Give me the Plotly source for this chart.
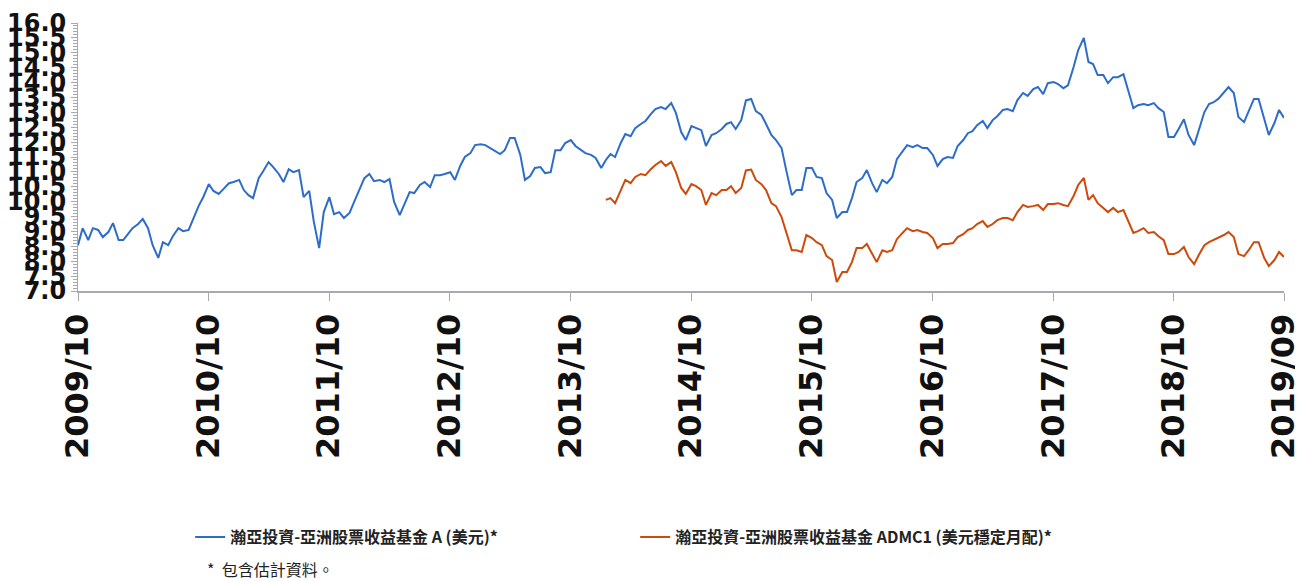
import pandas as pd
import plotly.graph_objects as go

# Semi-monthly observation dates (1st and 15th of each month) plus the final date
dates = list(pd.date_range("2009-10-01", "2019-09-15", freq="SMS")) + [pd.Timestamp("2019-09-30")]

fund_a = [
    8.54, 9.11, 8.71, 9.11, 9.05, 8.81, 8.98, 9.28, 8.71, 8.71,
    8.91, 9.11, 9.25, 9.42, 9.11, 8.54, 8.11, 8.64, 8.54, 8.84,
    9.11, 9.01, 9.05, 9.42, 9.85, 10.15, 10.59, 10.36, 10.26, 10.42,
    10.62, 10.66, 10.73, 10.39, 10.22, 10.12, 10.79, 11.03, 11.33, 11.16,
    10.93, 10.66, 11.09, 10.99, 11.06, 10.15, 10.36, 9.32, 8.44, 9.65,
    10.15, 9.58, 9.65, 9.45, 9.62, 9.99, 10.46, 10.79, 10.93, 10.69,
    10.73, 10.66, 10.76, 9.99, 9.55, 9.92, 10.32, 10.29, 10.56, 10.66,
    10.49, 10.89, 10.89, 10.93, 10.99, 10.73, 11.20, 11.50, 11.63, 11.90,
    11.93, 11.90, 11.80, 11.70, 11.60, 11.73, 12.14, 12.14, 11.57, 10.73,
    10.86, 11.13, 11.16, 10.96, 10.99, 11.73, 11.73, 11.97, 12.07, 11.87,
    11.73, 11.63, 11.57, 11.47, 11.13, 11.40, 11.60, 11.50, 11.97, 12.27,
    12.20, 12.47, 12.61, 12.71, 12.94, 13.11, 13.18, 13.11, 13.31, 12.98,
    12.34, 12.07, 12.54, 12.47, 12.40, 11.87, 12.24, 12.30, 12.44, 12.61,
    12.67, 12.44, 12.74, 13.40, 13.45, 13.04, 12.91, 12.61, 12.24, 12.07,
    11.80, 11.06, 10.22, 10.39, 10.39, 11.13, 11.13, 10.83, 10.79, 10.29,
    10.06, 9.45, 9.65, 9.65, 10.12, 10.66, 10.79, 11.06, 10.62, 10.32,
    10.73, 10.62, 10.83, 11.43, 11.67, 11.90, 11.83, 11.90, 11.80, 11.80,
    11.57, 11.20, 11.43, 11.50, 11.47, 11.87, 12.07, 12.30, 12.37, 12.57,
    12.71, 12.47, 12.74, 12.87, 13.08, 13.11, 13.04, 13.41, 13.65, 13.55,
    13.78, 13.85, 13.61, 13.98, 14.02, 13.95, 13.81, 13.91, 14.52, 15.09,
    15.50, 14.69, 14.62, 14.25, 14.25, 13.98, 14.18, 14.18, 14.28, 13.71,
    13.14, 13.24, 13.28, 13.24, 13.31, 13.14, 13.01, 12.17, 12.17, 12.44,
    12.77, 12.24, 11.90, 12.40, 13.01, 13.28, 13.34, 13.45, 13.65, 13.85,
    13.65, 12.84, 12.67, 13.01, 13.45, 13.45, 12.74, 12.24, 12.64, 13.08,
    12.81,
]

# ADMC1 share class starts 2014-02-15 (index 105 of the date list)
admc1_start = 105
fund_admc1 = [
    10.06, 10.12, 9.95, 10.39, 10.73,
    10.62, 10.83, 10.93, 10.89, 11.09, 11.23, 11.36, 11.20, 11.33, 10.99,
    10.46, 10.26, 10.59, 10.52, 10.39, 9.89, 10.29, 10.22, 10.39, 10.39,
    10.52, 10.29, 10.46, 11.05, 11.08, 10.73, 10.59, 10.39, 9.95, 9.85,
    9.48, 8.95, 8.37, 8.37, 8.31, 8.88, 8.78, 8.64, 8.54, 8.17,
    8.04, 7.30, 7.64, 7.64, 7.97, 8.44, 8.44, 8.58, 8.24, 7.97,
    8.37, 8.31, 8.37, 8.74, 8.95, 9.11, 9.01, 9.05, 8.98, 8.95,
    8.78, 8.44, 8.58, 8.58, 8.61, 8.81, 8.91, 9.05, 9.11, 9.25,
    9.35, 9.15, 9.25, 9.38, 9.45, 9.45, 9.38, 9.65, 9.89, 9.82,
    9.85, 9.89, 9.72, 9.92, 9.92, 9.95, 9.89, 9.85, 10.19, 10.56,
    10.80, 10.06, 10.22, 9.95, 9.79, 9.65, 9.79, 9.65, 9.72, 9.35,
    8.95, 9.01, 9.11, 8.95, 8.98, 8.84, 8.71, 8.24, 8.24, 8.31,
    8.48, 8.14, 7.90, 8.21, 8.54, 8.64, 8.71, 8.78, 8.88, 8.98,
    8.81, 8.24, 8.17, 8.37, 8.64, 8.64, 8.11, 7.84, 8.04, 8.31,
    8.14,
]

tick_dates = ["2009-10-01", "2010-10-31", "2011-10-31", "2012-10-31", "2013-10-31",
              "2014-10-31", "2015-10-31", "2016-10-31", "2017-10-31", "2018-10-31",
              "2019-09-30"]
tick_labels = ["2009/10", "2010/10", "2011/10", "2012/10", "2013/10", "2014/10",
               "2015/10", "2016/10", "2017/10", "2018/10", "2019/09"]

name_a = "瀚亞投資-亞洲股票收益基金 A (美元)*"
name_admc1 = "瀚亞投資-亞洲股票收益基金 ADMC1 (美元穩定月配)*"
note = "*  包含估計資料。"

BLUE = "#2d6cc8"
ORANGE = "#cc4a0c"
AXIS = "#a8a8b0"

fig = go.Figure()
fig.add_trace(go.Scatter(x=dates, y=fund_a, mode="lines", name=name_a,
                         line=dict(color=BLUE, width=2)))
fig.add_trace(go.Scatter(x=dates[admc1_start:], y=fund_admc1, mode="lines", name=name_admc1,
                         line=dict(color=ORANGE, width=2)))

# the page body adds an 8px margin, so the figure is 8px smaller than the window
fig.update_layout(
    width=1295, height=573,
    margin=dict(l=70, r=19, t=15, b=290),
    paper_bgcolor="white", plot_bgcolor="white",
    font=dict(family="Noto Sans CJK TC, DejaVu Sans, sans-serif", color="#222222"),
    showlegend=True,
    legend=dict(orientation="h", x=0.093, xanchor="left", y=-0.918, yanchor="middle",
                entrywidth=400, entrywidthmode="pixels",
                font=dict(size=16, family="Noto Sans CJK TC, sans-serif", color="#222222",
                          weight="bold"),
                bgcolor="rgba(0,0,0,0)", itemwidth=30),
)
fig.update_xaxes(
    type="date", range=["2009-10-01", "2019-09-30"], automargin=False,
    tickmode="array", tickvals=tick_dates, ticktext=tick_labels,
    tickangle=-90, ticks="outside", ticklen=8, tickcolor=AXIS, tickwidth=1,
    showline=True, linecolor=AXIS, linewidth=2, showgrid=False, zeroline=False,
    tickfont=dict(family="DejaVu Sans, sans-serif", size=32, color="#111111", weight="bold"),
)
fig.update_yaxes(
    range=[7, 16], dtick=0.5, tick0=7, tickformat=".1f", automargin=False,
    ticks="outside", ticklen=6, tickcolor=AXIS, tickwidth=1,
    minor=dict(dtick=0.1, ticks="outside", ticklen=4, tickcolor=AXIS, showgrid=False),
    showline=True, linecolor=AXIS, linewidth=1, showgrid=False, zeroline=False,
    tickfont=dict(family="DejaVu Sans, sans-serif", size=24, color="#111111", weight="bold"),
)
fig.add_annotation(text=note, xref="paper", yref="paper", x=0.105, y=-1.037,
                   xanchor="left", yanchor="middle", showarrow=False,
                   font=dict(size=16, family="Noto Sans CJK TC, sans-serif", color="#222222"))

fig.write_html("out.html")
